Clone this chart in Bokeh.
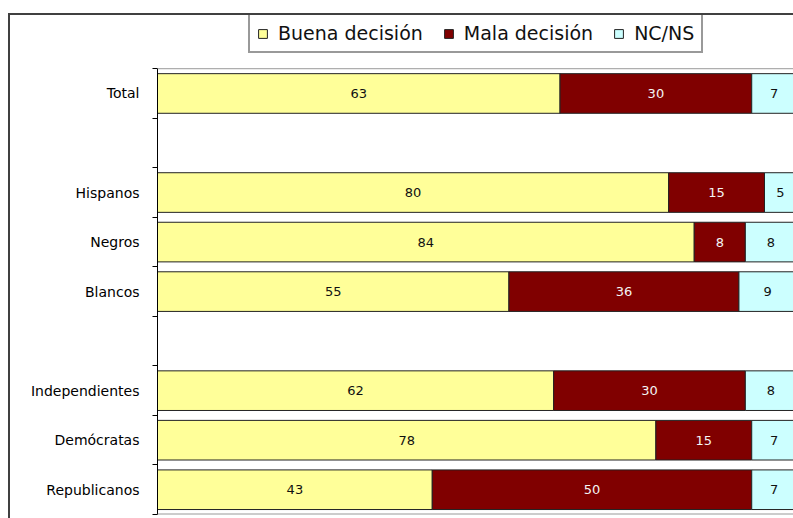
from bokeh.plotting import figure
from bokeh.models import FixedTicker, Legend, LegendItem, ColumnDataSource, Range1d, Span
from bokeh.core.properties import value
from bokeh.embed import file_html
from bokeh.resources import INLINE
import numpy as np

# rows of the category axis (empty strings are separator rows)
rows = ["Total", "", "Hispanos", "Negros", "Blancos", "", "Independientes", "Demócratas", "Republicanos"]
groups = ["Total", "Hispanos", "Negros", "Blancos", "Independientes", "Demócratas", "Republicanos"]
buena = [63, 80, 84, 55, 62, 78, 43]
mala = [30, 15, 8, 36, 30, 15, 50]
ncns = [7, 5, 8, 9, 8, 7, 7]
series_names = ["Buena decisión", "Mala decisión", "NC/NS"]
series_colors = ["#FFFF99", "#800000", "#CCFFFF"]
label_colors = ["#111111", "#f4f4f4", "#111111"]

n = len(rows)
ypos = [n - 0.5 - rows.index(g) for g in groups]

# extra room above the rows (in row units) for the legend
top_room = 53 / (444 / n)

p = figure(width=785, height=505, x_range=Range1d(0, 99.85), y_range=Range1d(0, n + top_room),
           output_backend="svg", toolbar_location=None, x_axis_location=None,
           min_border_left=147, min_border_right=0, min_border_top=0, min_border_bottom=6)
p.styles = {"margin-top": "13px", "margin-left": "8px",
            "border-left": "2px solid #404040", "border-top": "2px solid #404040"}

p.xgrid.visible = False
p.ygrid.visible = False
p.outline_line_color = None
p.background_fill_color = "white"
p.add_layout(Span(location=n, dimension="width", line_color="#9a9a9a", line_width=1))
p.add_layout(Span(location=0, dimension="width", line_color="#9a9a9a", line_width=2))

series = [buena, mala, ncns]
left = np.zeros(len(groups))
legend_items = []
for vals, name, col, tcol in zip(series, series_names, series_colors, label_colors):
    vals = np.array(vals, dtype=float)
    right = left + vals
    src = ColumnDataSource(dict(y=ypos, left=left, right=right,
                                mid=(left + right) / 2, txt=[str(int(v)) for v in vals]))
    r = p.hbar(y="y", left="left", right="right", height=0.8, source=src,
               fill_color=col, line_color="#222222", line_width=1)
    p.text(x="mid", y="y", text="txt", source=src, text_align="center", text_baseline="middle",
           text_font=value("DejaVu Sans"), text_font_size="13px", text_color=tcol)
    legend_items.append(LegendItem(label=name, renderers=[r]))
    left = right

ax = p.yaxis[0]
ax.bounds = (0, n)
ax.ticker = FixedTicker(ticks=ypos, minor_ticks=list(range(n + 1)))
ax.major_label_overrides = {y: g for y, g in zip(ypos, groups)}
ax.major_tick_line_color = None
ax.major_tick_out = 0
ax.major_tick_in = 0
ax.minor_tick_out = 5
ax.minor_tick_in = 0
ax.minor_tick_line_color = "#000000"
ax.axis_line_color = "#000000"
ax.axis_line_width = 1
ax.major_label_standoff = 13
ax.major_label_text_font = "DejaVu Sans"
ax.major_label_text_font_size = "14px"
ax.major_label_text_color = "#000000"

legend = Legend(items=legend_items, orientation="horizontal", location=(91, 461))
legend.label_text_font = "DejaVu Sans"
legend.label_text_font_size = "19px"
legend.label_text_color = "#111111"
legend.glyph_width = 11
legend.glyph_height = 11
legend.label_standoff = 10
legend.spacing = 20
legend.padding = 7
legend.margin = 0
legend.border_line_color = "#333333"
legend.border_line_width = 2
legend.background_fill_color = "white"
legend.background_fill_alpha = 1
p.add_layout(legend)

open("out.html", "w").write(file_html(p, INLINE))
